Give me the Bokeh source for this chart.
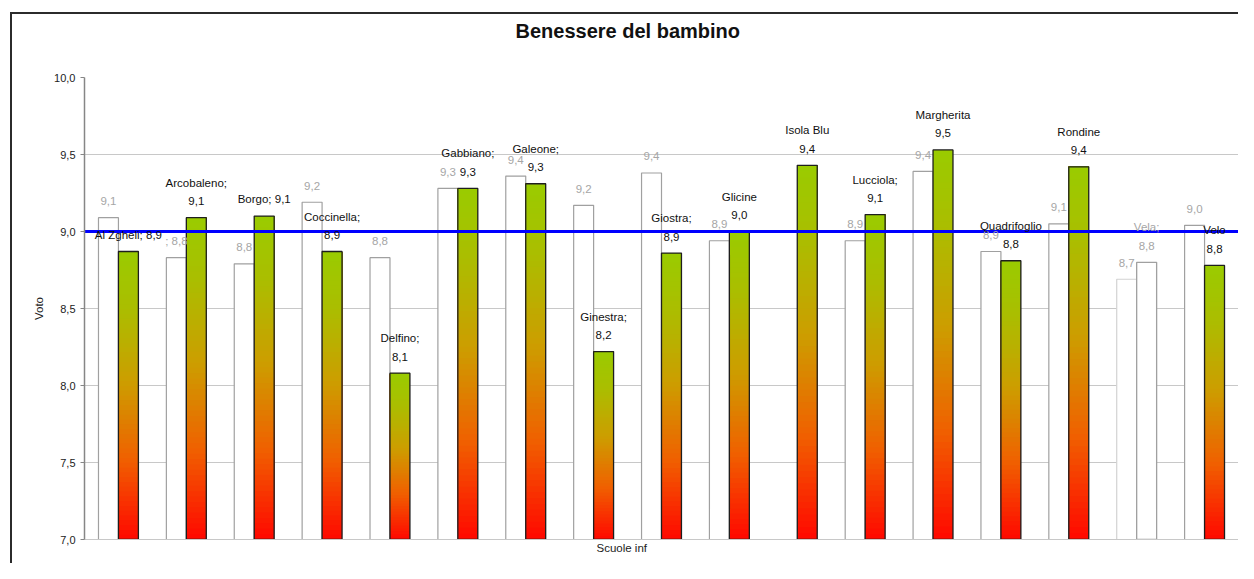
from bokeh.plotting import figure
from bokeh.models import Range1d, FixedTicker, Title
from bokeh.core.properties import value
from bokeh.embed import file_html
from bokeh.resources import INLINE

# ---------------- data ----------------
schools = ["Al Zgheli", "Arcobaleno", "Borgo", "Coccinella", "Delfino", "Gabbiano",
           "Galeone", "Ginestra", "Giostra", "Glicine", "Isola Blu", "Lucciola",
           "Margherita", "Quadrifoglio", "Rondine", "Vela", "Velo"]
prev_votes = [9.09, 8.83, 8.79, 9.19, 8.83, 9.28, 9.36, 9.17, 9.38, 8.94, None,
              8.94, 9.39, 8.87, 9.05, 8.69, 9.04]
curr_votes = [8.87, 9.09, 9.10, 8.87, 8.08, 9.28, 9.31, 8.22, 8.86, 9.00, 9.43,
              9.11, 9.53, 8.81, 9.42, 8.80, 8.78]
label_heads = ["Al Zgheli;", "Arcobaleno;", "Borgo;", "Coccinella;", "Delfino;",
               "Gabbiano;", "Galeone;", "Ginestra;", "Giostra;", "Glicine",
               "Isola Blu", "Lucciola;", "Margherita", "Quadrifoglio", "Rondine",
               "Vela;", "Velo"]
prev_prefix = ["", "; ", "", "", "", "", "", "", "", "", "", "", "", "", "", "", ""]
media = 9.0
y_ticks = [7.0, 7.5, 8.0, 8.5, 9.0, 9.5, 10.0]
title_text = "Benessere del bambino"
x_title = "Scuole inf"
y_title = "Voto"

# ---------------- styles ----------------
label_inline = [True, False, True] + [False] * 14
curr_gradient = [True] * 15 + [False, True]
prev_line_colors = ["#a0a0a0"] * 15 + ["#d2d2d2", "#a0a0a0"]
curr_label_colors = ["#111111"] * 15 + ["#a6a6a6", "#111111"]
BAR_W = 0.294
FONT = "Liberation Sans"
grad_stops = [(0.0, (255, 10, 0)), (0.27, (240, 96, 0)), (0.54, (204, 158, 0)),
              (0.8, (170, 190, 0)), (1.0, (153, 204, 0))]


def grad(t):
    for (t0, c0), (t1, c1) in zip(grad_stops[:-1], grad_stops[1:]):
        if t <= t1:
            f = (t - t0) / (t1 - t0)
            r, g, b = (round(a + (bb - a) * f) for a, bb in zip(c0, c1))
            return "#%02x%02x%02x" % (r, g, b)
    return "#%02x%02x%02x" % grad_stops[-1][1]


def fmt(v):
    return f"{v:.1f}".replace(".", ",")


n = len(schools)
p = figure(width=1238, height=563, x_range=Range1d(0, n), y_range=Range1d(y_ticks[0], y_ticks[-1]),
           output_backend="svg", toolbar_location=None,
           min_border_left=84, min_border_right=0, min_border_top=77, min_border_bottom=24)
# outer chart frame (left and top edges) painted behind the transparent canvas border
p.styles = {"background": "linear-gradient(#2b2b2b,#2b2b2b) 10px 12px / 2px 100% no-repeat, "
                          "linear-gradient(#2b2b2b,#2b2b2b) 10px 12px / 100% 2px no-repeat, white"}
p.border_fill_color = None
p.background_fill_color = "white"
p.outline_line_color = None
p.title.text = ""

# x axis: invisible spacer
p.xaxis.ticker = FixedTicker(ticks=[])
p.xaxis.major_tick_out = 9
p.xaxis.major_tick_in = 0
p.xaxis.major_tick_line_color = None
p.xaxis.minor_tick_line_color = None
p.xaxis.major_label_text_font_size = "0px"
p.xaxis.major_label_standoff = 0
p.xaxis.axis_line_color = "#c8c8c8"
p.xgrid.visible = False

# y axis
p.yaxis.ticker = FixedTicker(ticks=y_ticks)
p.yaxis.major_label_overrides = {t: fmt(t) for t in y_ticks}
p.yaxis.minor_tick_line_color = None
p.yaxis.major_tick_out = 4
p.yaxis.major_tick_in = 0
p.yaxis.axis_line_color = "#868686"
p.yaxis.axis_line_width = 1.5
p.yaxis.major_tick_line_color = "#868686"
p.yaxis.major_label_text_font = FONT
p.yaxis.major_label_text_font_size = "11px"
p.yaxis.major_label_text_color = "#222222"
p.yaxis.major_label_standoff = 5
p.yaxis.axis_label = y_title
p.yaxis.axis_label_text_font = FONT
p.yaxis.axis_label_text_font_size = "11.5px"
p.yaxis.axis_label_text_font_style = "normal"
p.yaxis.axis_label_text_color = "#222222"
p.yaxis.axis_label_standoff = 6
p.ygrid.ticker = FixedTicker(ticks=y_ticks)
p.ygrid.grid_line_color = "#c8c8c8"

base = y_ticks[0]

# previous-year white bars
pl, pr, pt, pc = [], [], [], []
for i, v in enumerate(prev_votes):
    if v is None:
        continue
    pl.append(i + 0.5 - BAR_W); pr.append(i + 0.5); pt.append(v); pc.append(prev_line_colors[i])
p.quad(left=pl, right=pr, bottom=base, top=pt, fill_color="white", line_color=pc, line_width=1.2)

# current bars: gradient slices
N = 60
gl, gr, gb, gt, gc = [], [], [], [], []
for i, v in enumerate(curr_votes):
    if not curr_gradient[i]:
        continue
    for k in range(N):
        f = k / N
        gl.append(i + 0.5); gr.append(i + 0.5 + BAR_W)
        gb.append(base + (v - base) * f); gt.append(v); gc.append(grad(f))
p.quad(left=gl, right=gr, bottom=gb, top=gt, fill_color=gc, line_color=None)

# current bar outlines
cl = [i + 0.5 for i in range(n)]
cr = [i + 0.5 + BAR_W for i in range(n)]
p.quad(left=cl, right=cr, bottom=base, top=curr_votes,
       fill_color="white", fill_alpha=[0 if g else 1 for g in curr_gradient],
       line_color=["#1e1e1e" if g else "#a0a0a0" for g in curr_gradient], line_width=1.3)

# average line
p.line([0, n], [media, media], line_color="#0000ff", line_width=3)

# previous labels
px, py, ptxt = [], [], []
for i, v in enumerate(prev_votes):
    if v is None:
        continue
    px.append(i + 0.5 - BAR_W / 2); py.append(v); ptxt.append(prev_prefix[i] + fmt(v))
p.text(x=px, y=py, text=ptxt, y_offset=-16.5, text_align="center", text_baseline="middle",
       text_font=value(FONT), text_font_size="11.5px", text_color="#a6a6a6")

# current labels
cx = [i + 0.5 + BAR_W / 2 for i in range(n)]
vx, vy, vt, vc = [], [], [], []
hx, hy, ht, hc = [], [], [], []
ix, iy, it, ic = [], [], [], []
for i, v in enumerate(curr_votes):
    if label_inline[i]:
        ix.append(cx[i]); iy.append(v); it.append(label_heads[i] + " " + fmt(v)); ic.append(curr_label_colors[i])
    else:
        vx.append(cx[i]); vy.append(v); vt.append(fmt(v)); vc.append(curr_label_colors[i])
        hx.append(cx[i]); hy.append(v); ht.append(label_heads[i]); hc.append(curr_label_colors[i])
common = dict(text_align="center", text_baseline="middle", text_font=value(FONT), text_font_size="11.5px")
p.text(x=vx, y=vy, text=vt, y_offset=-16.5, text_color=vc, **common)
p.text(x=hx, y=hy, text=ht, y_offset=-35, text_color=hc, **common)
p.text(x=ix, y=iy, text=it, y_offset=-17, text_color=ic, **common)

# top: spacer next to the frame, then the chart title
p.add_layout(Title(text=" ", text_font=FONT, text_font_size="20px", standoff=12), "above")
p.add_layout(Title(text=title_text, text_font=FONT, text_font_size="20px", text_font_style="bold",
                   text_color="#111111", align="left", offset=431, vertical_align="bottom",
                   standoff=0), "above")
# bottom: x axis title
p.add_layout(Title(text=x_title, text_font=FONT, text_font_size="11.5px", text_font_style="normal",
                   text_color="#222222", align="left", offset=512, vertical_align="bottom",
                   standoff=0), "below")

open("out.html", "w").write(file_html(p, INLINE))
